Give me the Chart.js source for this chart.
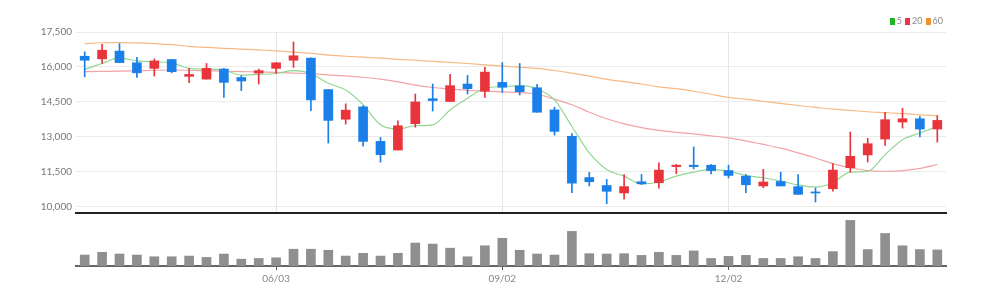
<!DOCTYPE html>
<html>
<head>
<meta charset="utf-8">
<script src="https://cdn.jsdelivr.net/npm/chart.js@4.4.1/dist/chart.umd.min.js"></script>
<style>
  html, body { margin: 0; padding: 0; background: #fff; }
  #wrap { position: relative; width: 994px; height: 291px; overflow: hidden; }
  #priceBox { position: absolute; left: 0; top: 0; width: 994px; height: 223px; }
  #volBox { position: absolute; left: 0; top: 214px; width: 994px; height: 77px; }
  #legend { position: absolute; right: 51px; top: 15px; font: 9px Lato, sans-serif; color: #888; white-space: nowrap; }
  #legend span.box { display: inline-block; width: 5px; height: 7px; margin-right: 2px; vertical-align: -1px; }
  #legend span.item { margin-left: 3px; }
</style>
</head>
<body>
<div id="wrap">
  <div id="priceBox"><canvas id="priceChart"></canvas></div>
  <div id="volBox"><canvas id="volChart"></canvas></div>
  <div id="legend"></div>
</div>
<script>
// weekly candles
var dates = ['03/18','03/25','04/01','04/08','04/15','04/22','04/29','05/06','05/13','05/20',
             '05/27','06/03','06/10','06/17','06/24','07/01','07/08','07/15','07/22','07/29',
             '08/05','08/12','08/19','08/26','09/02','09/09','09/16','09/23','09/30','10/07',
             '10/14','10/21','10/28','11/04','11/11','11/18','11/25','12/02','12/09','12/16',
             '12/23','12/30','01/06','01/13','01/20','01/27','02/03','02/10','02/17','02/24'];

var opens  = [16460,16350,16680,16180,15940,16320,15600,15480,15910,15550,
              15740,15940,16290,16380,15030,13760,14290,12810,12440,13570,
              14640,14520,15270,14960,15340,15190,15110,14160,13030,11260,
              10920,10600,11080,11040,11730,11790,11790,11560,11320,10900,
              11090,10870,10640,10780,11680,12230,12910,13640,13780,13340];
var highs  = [16650,16970,17000,16410,16350,16320,15940,16150,15940,15630,
              15910,16190,17070,16390,15030,14420,14330,12980,13690,14840,
              15270,15680,15640,15980,16190,16150,15260,14280,13140,11480,
              11180,11390,11390,11890,11820,12570,11820,11790,11390,11610,
              11490,11390,10810,11860,13210,12940,14060,14230,13880,13920];
var lows   = [15580,16150,16180,15550,15610,15750,15330,15480,14700,14990,
              15270,15720,15980,14130,12740,13550,12600,11920,12440,13420,
              14110,14520,14840,14700,14910,14800,14060,13080,10610,10900,
              10140,10330,10960,10800,11420,11630,11420,11240,10610,10820,
              10900,10540,10210,10680,11490,11930,12640,13380,13000,12780];
var closes = [16290,16720,16190,15750,16260,15800,15680,15940,15340,15400,
              15840,16180,16480,14590,13710,14150,12810,12240,13480,14500,
              14560,15200,15070,15780,15130,14940,14060,13240,11020,11080,
              10670,10870,10990,11580,11790,11730,11560,11350,10950,11070,
              10900,10540,10600,11580,12170,12710,13740,13780,13340,13710];

var volumes = [32,40,35,32,27,27,29,25,35,20,
               22,24,49,49,46,29,37,29,37,67,
               64,52,27,59,81,46,35,32,101,36,
               35,36,31,40,31,44,22,28,31,22,
               22,27,22,42,133,48,95,59,48,47];

// moving averages
var ma5  = [15900,16150,16390,16260,16220,16180,15940,15910,15870,15650,
            15680,15720,15840,15720,15300,15010,14380,13520,13340,13480,
            13520,14160,14660,15090,15160,15200,15060,14590,13450,12320,
            11610,11320,10990,11070,11320,11490,11610,11530,11350,11250,
            11110,10940,10850,11040,11490,11530,12240,12880,13170,13450];
var ma20 = [15800,15810,15820,15840,15860,15870,15860,15840,15820,15800,
            15790,15770,15740,15710,15660,15620,15560,15480,15360,15220,
            15120,15050,15000,14960,14930,14900,14830,14620,14380,14060,
            13780,13560,13400,13280,13200,13130,13050,12960,12830,12680,
            12520,12320,12100,11860,11680,11560,11530,11560,11650,11820];
var ma60 = [17000,17040,17045,17030,17000,16960,16880,16840,16800,16770,
            16730,16690,16640,16580,16510,16460,16420,16380,16330,16290,
            16240,16200,16150,16090,16040,15990,15940,15850,15740,15610,
            15470,15370,15270,15150,15070,14960,14830,14700,14620,14530,
            14440,14350,14270,14190,14140,14080,14040,14000,13950,13910];

var priceTicks = [10000, 11500, 13000, 14500, 16000, 17500];
var dateTicks = ['06/03', '09/02', '12/02'];

var UP = '#e9343c', DOWN = '#1a7fe8';
var candleColor = closes.map(function (c, i) { return c >= opens[i] ? UP : DOWN; });

var maSets = [
    {label: '5',  data: ma5,  line: '#93d693', box: '#22b522'},
    {label: '20', data: ma20, line: '#f3a3a6', box: '#ee3344'},
    {label: '60', data: ma60, line: '#f7b983', box: '#f0922e'}
];

// html legend
document.getElementById('legend').innerHTML = maSets.map(function (m) {
    return '<span class="item"><span class="box" style="background:' + m.box + '"></span>' + m.label + '</span>';
}).join('');

var tickFont = {family: 'Lato, sans-serif', size: 10};

var priceChart = new Chart(document.getElementById('priceChart'), {
    type: 'bar',
    data: {
        labels: dates,
        datasets: [
            {
                label: 'wick',
                data: lows.map(function (l, i) { return [l, highs[i]]; }),
                backgroundColor: candleColor,
                barThickness: 1,
                grouped: false,
                order: 1
            },
            {
                label: 'body',
                data: opens.map(function (o, i) { return [o, closes[i]]; }),
                backgroundColor: candleColor,
                barThickness: 9,
                minBarLength: 1,
                grouped: false,
                order: 0
            }
        ].concat(maSets.map(function (m) {
            return {
                type: 'line',
                label: m.label,
                data: m.data,
                borderColor: m.line,
                backgroundColor: m.box,
                borderWidth: 1.2,
                pointRadius: 0,
                cubicInterpolationMode: 'monotone',
                order: 5
            };
        }))
    },
    options: {
        responsive: true,
        maintainAspectRatio: false,
        animation: false,
        layout: {padding: {top: 32, right: 48, bottom: 3, left: 0}},
        plugins: {legend: {display: false}, tooltip: {enabled: false}},
        scales: {
            x: {
                offset: true,
                ticks: {display: false},
                grid: {
                    offset: false,
                    drawTicks: false,
                    color: function (ctx) {
                        return dateTicks.indexOf(dates[ctx.index]) >= 0 ? '#e6e6e6' : 'rgba(0,0,0,0)';
                    }
                },
                border: {display: true, color: '#222', width: 2}
            },
            y: {
                min: 9740,
                max: 17500,
                afterBuildTicks: function (scale) {
                    scale.ticks = priceTicks.map(function (v) { return {value: v}; });
                },
                afterFit: function (scale) { scale.width = 76; },
                ticks: {
                    color: '#777',
                    font: tickFont,
                    padding: 4,
                    callback: function (v) { return Number(v).toLocaleString('en-US'); }
                },
                grid: {color: '#ebebeb', drawTicks: false},
                border: {display: false}
            }
        }
    }
});

var volChart = new Chart(document.getElementById('volChart'), {
    type: 'bar',
    data: {
        labels: dates,
        datasets: [{
            label: 'volume',
            data: volumes,
            backgroundColor: '#8f8f8f',
            barThickness: 9
        }]
    },
    options: {
        responsive: true,
        maintainAspectRatio: false,
        animation: false,
        layout: {padding: {top: 3, right: 48, bottom: 3, left: 76}},
        plugins: {legend: {display: false}, tooltip: {enabled: false}},
        scales: {
            x: {
                offset: true,
                ticks: {
                    autoSkip: false,
                    maxRotation: 0,
                    padding: 3,
                    color: '#888',
                    font: tickFont,
                    callback: function (v, i) { return dateTicks.indexOf(dates[i]) >= 0 ? dates[i] : ''; }
                },
                grid: {
                    offset: false,
                    drawOnChartArea: false,
                    tickLength: 4,
                    color: function (ctx) {
                        return dateTicks.indexOf(dates[ctx.index]) >= 0 ? '#555' : 'rgba(0,0,0,0)';
                    }
                },
                border: {display: true, color: '#666', width: 2}
            },
            y: {
                display: false,
                min: 0,
                max: 143
            }
        }
    }
});
</script>
</body>
</html>
